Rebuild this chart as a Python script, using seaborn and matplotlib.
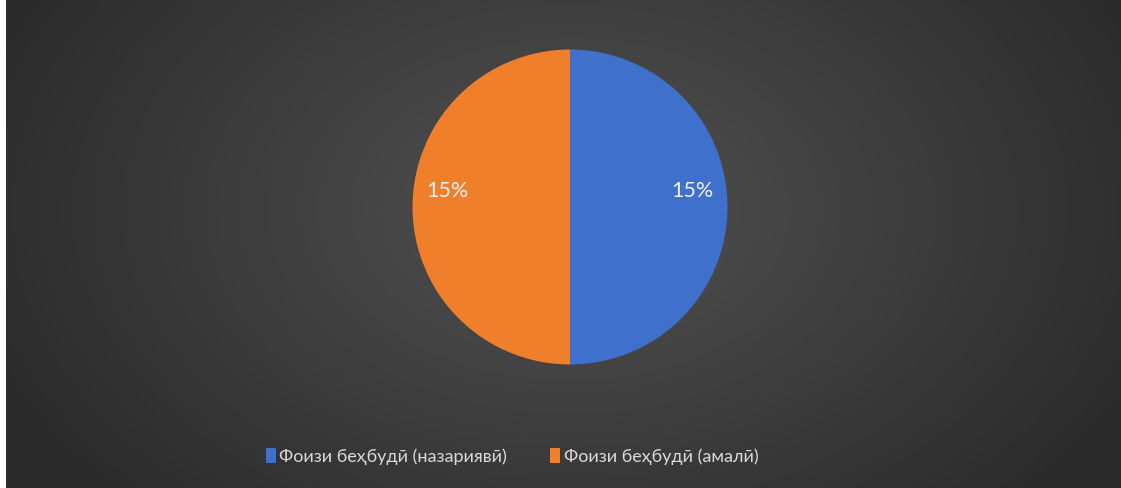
import numpy as np
import matplotlib
matplotlib.use("Agg")
import matplotlib.pyplot as plt
import seaborn as sns
from matplotlib.patches import Patch

categories = ["Фоизи беҳбудӣ (назариявӣ)", "Фоизи беҳбудӣ (амалӣ)"]
values = [15, 15]
colors = ["#3f70cc", "#f07f2c"]

sns.set_theme(style="dark")
plt.rcParams['font.family'] = ['Lato', 'DejaVu Sans']

W, H = 1121, 489
fig = plt.figure(figsize=(W / 100, H / 100), dpi=100)

# background radial gradient
bg = fig.add_axes([0, 0, 1, 1])
yy, xx = np.mgrid[0:H, 0:W]
cx, cy = 570, 210
r = np.sqrt(((xx - cx) / 620.0) ** 2 + ((yy - cy) / 420.0) ** 2)
val = 0.32 - 0.15 * np.clip(r, 0, 1)
img = np.dstack([val, val, val])
img[:, :6, :] = 1.0
bg.imshow(img, aspect='auto', extent=[0, W, H, 0])
bg.set_axis_off()

# pie
R = 157.5
ax = fig.add_axes([(570 - R) / W, (H - 208 - R) / H, 2 * R / W, 2 * R / H])
wedges, _ = ax.pie(values, colors=colors, startangle=90, counterclock=False,
                   wedgeprops=dict(linewidth=0))
ax.set_xlim(-1, 1)
ax.set_ylim(-1, 1)
ax.set_aspect('equal')
ax.set_axis_off()
for w, v in zip(wedges, values):
    ang = np.deg2rad((w.theta1 + w.theta2) / 2)
    ax.text(0.78 * np.cos(ang), 0.78 * np.sin(ang) + 0.11, f"{v}%",
            ha='center', va='center', color='#f2f2f2', fontsize=15.5)

handles = [Patch(facecolor=c, edgecolor='none') for c in colors]
leg = fig.legend(handles, categories, loc='center', bbox_to_anchor=(512 / W, 1 - 457 / H),
                 ncol=2, frameon=False, fontsize=13, handlelength=0.55, handleheight=0.9,
                 handletextpad=0.2, columnspacing=2.4, labelcolor='#d9d9d9')

fig.savefig("out.png", dpi=100)
